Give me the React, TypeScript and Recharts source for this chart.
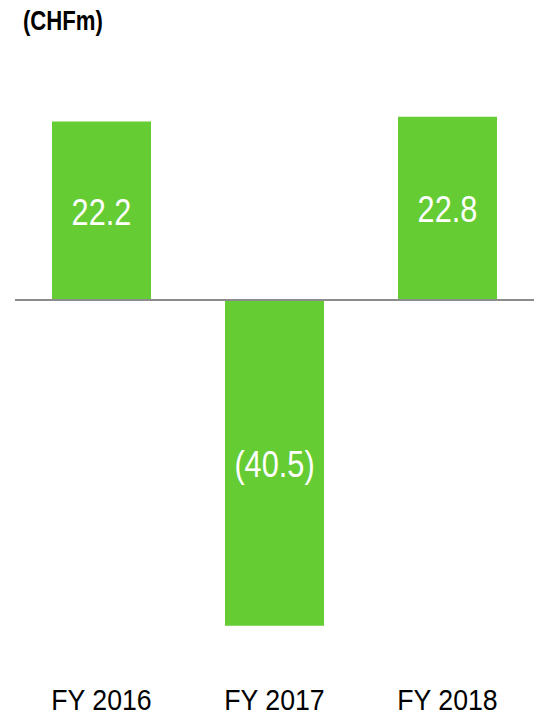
import { BarChart, Bar, XAxis, YAxis, ReferenceLine, LabelList } from "recharts";

const years = ["FY 2016", "FY 2017", "FY 2018"];
const values = [22.2, -40.5, 22.8];

const data = years.map((year, i) => ({ year, value: values[i] }));

// no narrow font installed, so squeeze Liberation Sans horizontally
const FONT = "'Liberation Sans', Arial, sans-serif";
const GREEN = "#66CC33";

const fmt = (v: number) => (v < 0 ? `(${Math.abs(v).toFixed(1)})` : v.toFixed(1));

const YearTick = (props: any) => {
  const { x, y, payload } = props;
  return (
    <text
      transform={`translate(${x},${y + 40}) scale(0.89,1)`}
      textAnchor="middle"
      fill="#000"
      fontSize={30}
      fontFamily={FONT}
    >
      {payload.value}
    </text>
  );
};

const ValueLabel = (props: any) => {
  const { x, y, width, height, value } = props;
  const cx = x + width / 2;
  const cy = y + height / 2;
  return (
    <text
      transform={`translate(${cx},${cy + 1}) scale(0.83,1)`}
      textAnchor="middle"
      dominantBaseline="central"
      fill="#fff"
      fontSize={37}
      fontFamily={FONT}
    >
      {fmt(Number(value))}
    </text>
  );
};

export default function App() {
  return (
    <div style={{ position: "absolute", left: 0, top: 0, width: 534, height: 715, background: "#fff" }}>
      <div
        style={{
          position: "absolute",
          left: 23,
          top: 6,
          fontFamily: FONT,
          fontWeight: "bold",
          fontSize: 27,
          color: "#000",
          transform: "scaleX(0.82)",
          transformOrigin: "left top",
        }}
      >
        (CHFm)
      </div>
      <BarChart
        width={534}
        height={715}
        data={data}
        margin={{ top: 99, right: 0, left: 15, bottom: 0 }}
      >
        <XAxis
          dataKey="year"
          axisLine={false}
          tickLine={false}
          height={53}
          tick={<YearTick />}
          interval={0}
        />
        <YAxis hide domain={[-45, 25]} />
        <Bar dataKey="value" fill={GREEN} barSize={99} isAnimationActive={false}>
          <LabelList dataKey="value" content={<ValueLabel />} />
        </Bar>
        <ReferenceLine y={0} stroke="#8c8c8c" strokeWidth={2} />
      </BarChart>
    </div>
  );
}
